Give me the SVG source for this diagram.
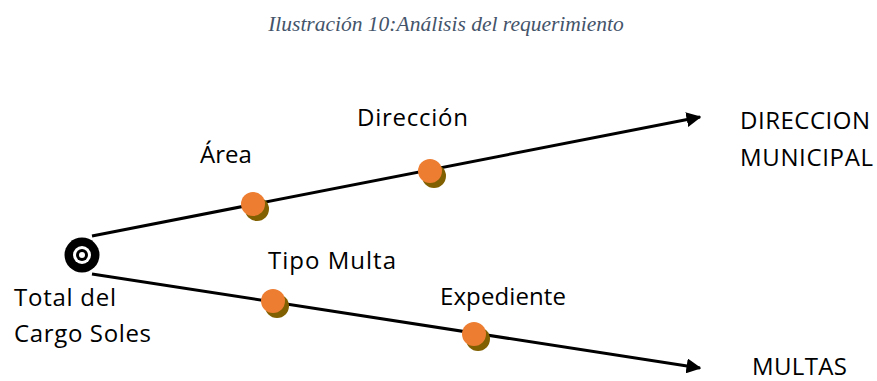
<svg xmlns="http://www.w3.org/2000/svg" width="877" height="381" viewBox="0 0 877 381">
<style>
.cap{font-family:"Liberation Serif",serif;font-style:italic;font-size:21.5px;fill:#44546a}
.lbl{font-family:"Open Sans","Liberation Sans",sans-serif;font-size:24px;fill:#000}
.ln{stroke:#000;stroke-width:3;fill:none}
.dot{fill:#ed7d31}
.sh{fill:#806000}
</style>
<defs>
<marker id="arr" viewBox="0 0 10 10" refX="9" refY="5" markerWidth="5" markerHeight="5" orient="auto" markerUnits="strokeWidth">
<path d="M0,0 L10,5 L0,10 z" fill="#000"/>
</marker>
</defs>
<rect width="877" height="381" fill="#fff"/>
<text class="cap" x="446" y="31" text-anchor="middle">Ilustración 10:Análisis del requerimiento</text>
<g id="connectors">
<line class="ln" x1="92" y1="236" x2="700" y2="117" marker-end="url(#arr)"/>
<line class="ln" x1="92" y1="274" x2="700" y2="368" marker-end="url(#arr)"/>
</g>
<g id="origin">
<circle cx="82" cy="255" r="17.5" fill="#000"/>
<circle cx="82" cy="255" r="9" fill="#fff"/>
<circle cx="82" cy="255" r="6" fill="#000"/>
<circle cx="82" cy="255" r="3" fill="#fff"/>
<text class="lbl" x="14" y="306" textLength="102">Total del</text>
<text class="lbl" x="14" y="342" textLength="137">Cargo Soles</text>
</g>
<g id="area">
<circle class="sh" cx="257" cy="209" r="12"/>
<circle class="dot" cx="253" cy="204" r="12"/>
<text class="lbl" x="200" y="163">Área</text>
</g>
<g id="direccion">
<circle class="sh" cx="434" cy="176" r="12"/>
<circle class="dot" cx="430" cy="171" r="12"/>
<text class="lbl" x="357" y="126" textLength="111">Dirección</text>
</g>
<g id="tipomulta">
<circle class="sh" cx="277" cy="306" r="12"/>
<circle class="dot" cx="273" cy="301" r="12"/>
<text class="lbl" x="268" y="269" textLength="128">Tipo Multa</text>
</g>
<g id="expediente">
<circle class="sh" cx="478" cy="339" r="12"/>
<circle class="dot" cx="474" cy="334" r="12"/>
<text class="lbl" x="440" y="305" textLength="126">Expediente</text>
</g>
<g id="dirmun">
<text class="lbl" x="740" y="129" textLength="130">DIRECCION</text>
<text class="lbl" x="740" y="166" textLength="133">MUNICIPAL</text>
</g>
<g id="multas">
<text class="lbl" x="752" y="375" textLength="95">MULTAS</text>
</g>
</svg>
